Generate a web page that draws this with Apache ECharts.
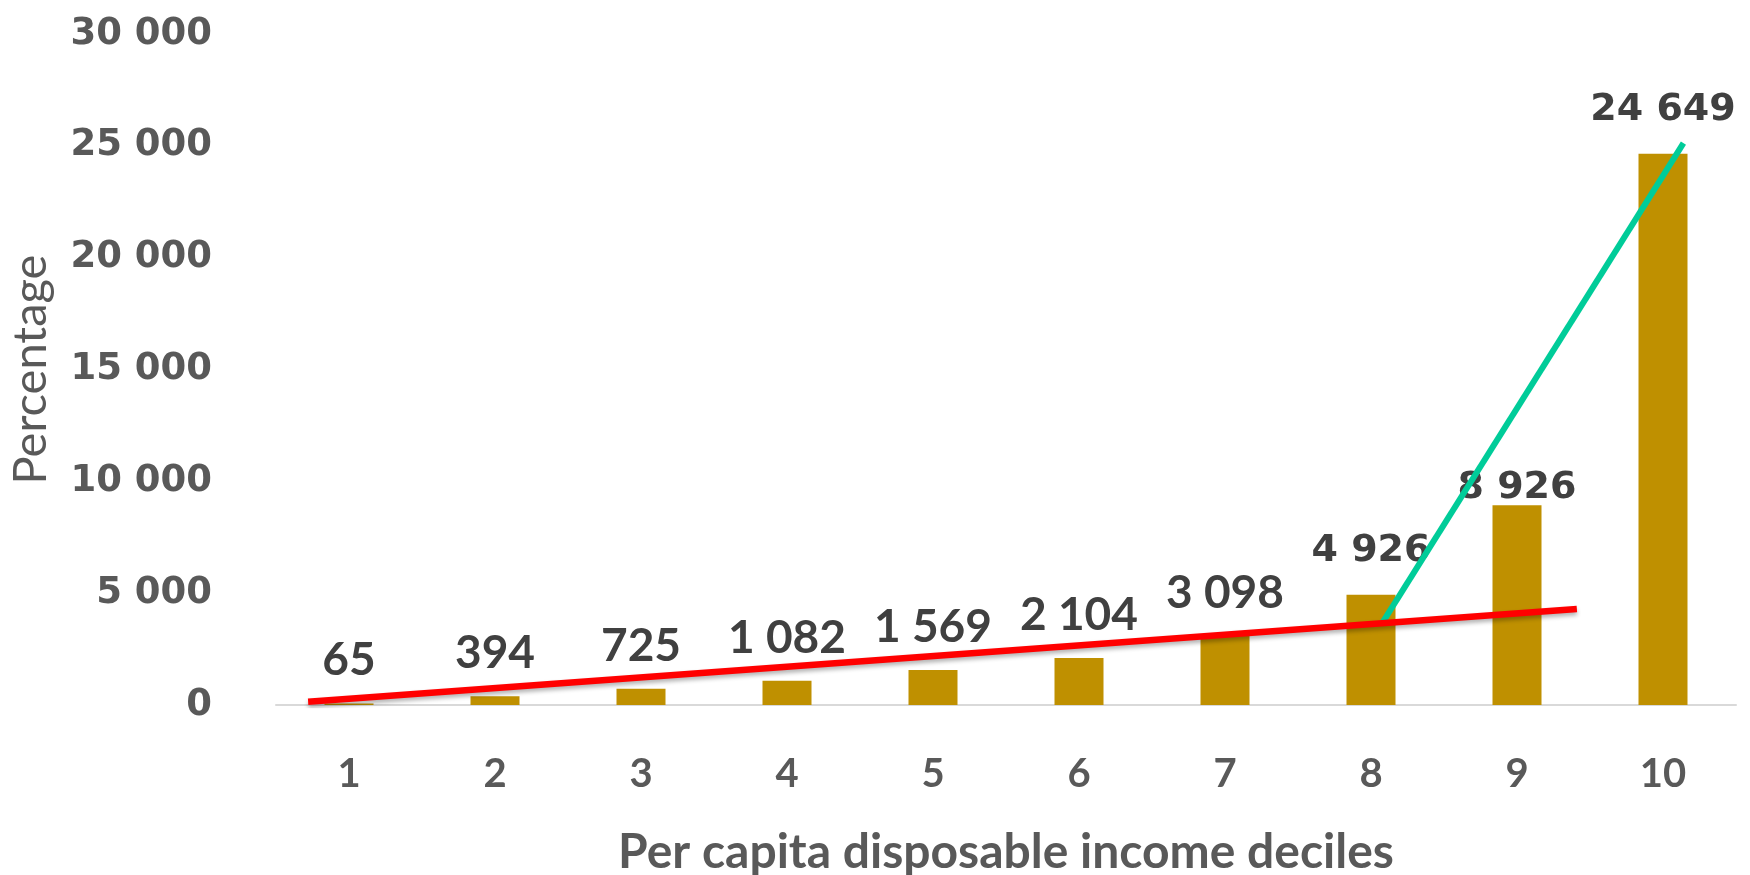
<!DOCTYPE html>
<html>
<head>
<meta charset="utf-8">
<script src="https://cdn.jsdelivr.net/npm/echarts@6/dist/echarts.min.js"></script>
<style>
  html, body { margin: 0; padding: 0; background: #fff; }
  #chart { width: 1750px; height: 875px; }
</style>
</head>
<body>
<div id="chart"></div>
<script>
// deciles and values
const deciles = ['1', '2', '3', '4', '5', '6', '7', '8', '9', '10'];
const values = [65, 394, 725, 1082, 1569, 2104, 3098, 4926, 8926, 24649];
const yTicks = [0, 5000, 10000, 15000, 20000, 25000, 30000];

// trend annotations, x in category index units (0 = decile 1)
const redTrend = [[-0.28, 150], [8.41, 4290]];
const greenTrend = [[7.07, 3590], [9.14, 25120]];

const fmt = v => String(v).replace(/\B(?=(\d{3})+(?!\d))/g, ' ');

const chart = echarts.init(document.getElementById('chart'));

const wideLabel = { fontFamily: 'DejaVu Sans', fontSize: 38, fontWeight: 'bold', distance: 25 };
const barData = values.map((v, i) => {
    if (i < 7) return v;
    const label = Object.assign({}, wideLabel);
    if (i === 8) label.distance = -2;
    return { value: v, label: label };
});

const option = {
    backgroundColor: '#ffffff',
    animation: false,
    grid: {
        left: 276,
        right: 14,
        top: 34,
        bottom: 170,
        outerBoundsMode: 'none'
    },
    xAxis: [
        {
            type: 'category',
            data: deciles,
            name: 'Per capita disposable income deciles',
            nameLocation: 'middle',
            nameGap: 124,
            nameTextStyle: {
                fontFamily: 'Lato',
                fontWeight: 'bold',
                fontSize: 48,
                color: '#595959'
            },
            axisLine: { lineStyle: { color: '#D9D9D9', width: 2 } },
            axisTick: { show: false },
            axisLabel: {
                fontFamily: 'Lato',
                fontWeight: 'bold',
                fontSize: 40,
                color: '#595959',
                margin: 49
            }
        },
        {
            type: 'value',
            min: -0.5,
            max: 9.5,
            show: false
        }
    ],
    yAxis: {
        type: 'value',
        min: 0,
        max: 30000,
        interval: 5000,
        name: 'Percentage',
        nameLocation: 'middle',
        nameGap: 222,
        nameTextStyle: {
            fontFamily: 'Lato',
            fontSize: 47,
            color: '#595959'
        },
        axisLine: { show: false },
        axisTick: { show: false },
        splitLine: { show: false },
        axisLabel: {
            fontFamily: 'DejaVu Sans',
            fontWeight: 'bold',
            fontSize: 37,
            color: '#595959',
            margin: 64,
            formatter: v => yTicks.includes(v) ? fmt(v) : ''
        }
    },
    series: [
        {
            type: 'bar',
            data: barData,
            barWidth: 49,
            itemStyle: { color: '#BF9000' },
            label: {
                show: true,
                position: 'top',
                distance: 20,
                fontFamily: 'Lato',
                fontWeight: 'bold',
                fontSize: 46,
                color: '#404040',
                formatter: p => fmt(p.value)
            }
        },
        {
            type: 'line',
            xAxisIndex: 1,
            data: greenTrend,
            symbol: 'none',
            lineStyle: { color: '#00CC99', width: 6, cap: 'butt' },
            z: 3
        },
        {
            type: 'line',
            xAxisIndex: 1,
            data: redTrend,
            symbol: 'none',
            lineStyle: {
                color: '#FF0000',
                width: 6.5,
                cap: 'butt',
                shadowColor: 'rgba(0,0,0,0.3)',
                shadowBlur: 4,
                shadowOffsetY: 3
            },
            z: 4
        }
    ]
};

chart.setOption(option);
</script>
</body>
</html>
